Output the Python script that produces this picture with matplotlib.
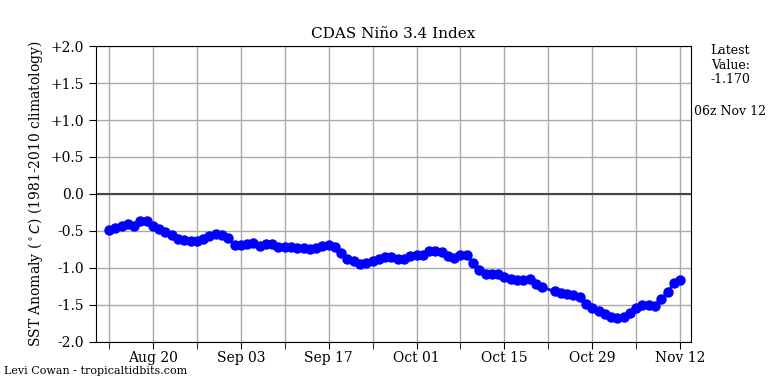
import matplotlib
matplotlib.use("Agg")
import matplotlib.pyplot as plt
import matplotlib.dates as mdates
import numpy as np
import pandas as pd

plt.rcParams['font.family'] = ['DejaVu Serif']

start_date = "2025-08-13"
end_date = "2025-11-12"
missing_dates = ["2025-10-22"]
values = [
    -0.49, -0.46, -0.44, -0.41, -0.43, -0.36, -0.37, -0.43, -0.47, -0.52,
    -0.56, -0.61, -0.63, -0.64, -0.64, -0.61, -0.57, -0.54, -0.55, -0.59,
    -0.69, -0.69, -0.68, -0.66, -0.70, -0.68, -0.68, -0.72, -0.72, -0.72,
    -0.73, -0.73, -0.74, -0.73, -0.70, -0.69, -0.72, -0.80, -0.88, -0.91,
    -0.95, -0.94, -0.91, -0.88, -0.86, -0.86, -0.88, -0.88, -0.84, -0.82,
    -0.82, -0.77, -0.77, -0.79, -0.84, -0.87, -0.83, -0.83, -0.93, -1.03,
    -1.08, -1.09, -1.09, -1.12, -1.15, -1.16, -1.17, -1.15, -1.22, -1.26,
    -1.32, -1.34, -1.35, -1.37, -1.40,
    -1.49, -1.54, -1.58, -1.63, -1.67, -1.68, -1.67, -1.61, -1.54, -1.50,
    -1.50, -1.51, -1.42, -1.33, -1.21, -1.17,
]
ytick_values = [-2.0, -1.5, -1.0, -0.5, 0.0, 0.5, 1.0, 1.5, 2.0]
latest_text = "Latest\nValue:\n-1.170"
latest_time = "06z Nov 12"

dates = pd.date_range(start_date, end_date, freq="D")
dates = dates[~dates.isin(pd.to_datetime(missing_dates))]

fig = plt.figure(figsize=(7.68, 3.84), dpi=100)
ax = fig.add_axes([0.125, 0.11, 0.775, 0.77])

ax.axhline(0, color="#444444", lw=1.5, zorder=2)
ax.plot(dates, values, color="blue", lw=2, marker="o", markersize=6.5, zorder=3)

ax.set_ylim(-2.0, 2.0)
ax.set_yticks(ytick_values)
ax.set_yticklabels([("+%.1f" % v) if v > 0 else ("%.1f" % v) for v in ytick_values], fontsize=10)

x0 = pd.Timestamp(start_date)
ax.set_xlim(x0 - pd.Timedelta(days=2.07), x0 + pd.Timedelta(days=92.76))
major = pd.date_range(x0 + pd.Timedelta(days=7), periods=7, freq="14D")
minor = pd.date_range(x0, periods=7, freq="14D")
ax.set_xticks(major)
ax.set_xticks(minor, minor=True)
ax.xaxis.set_major_formatter(mdates.DateFormatter("%b %d"))
ax.tick_params(axis="x", which="both", length=5, labelsize=10, pad=2)
ax.tick_params(axis="y", length=5, labelsize=10)
ax.grid(True, which="both", color="#aaaaaa", lw=1, zorder=0)
ax.set_axisbelow(True)

ax.set_title("CDAS Niño 3.4 Index", fontsize=11)
ax.set_ylabel(r"SST Anomaly ($^\circ C$) (1981-2010 climatology)", fontsize=10)

fig.text(0.951, 0.885, latest_text, ha="center", va="top", fontsize=9, linespacing=1.15)
fig.text(0.951, 0.71, latest_time, ha="center", va="center", fontsize=9)
fig.text(0.005, 0.034, "Levi Cowan - tropicaltidbits.com", ha="left", va="center", fontsize=8)

fig.savefig("out.png", dpi=100)
